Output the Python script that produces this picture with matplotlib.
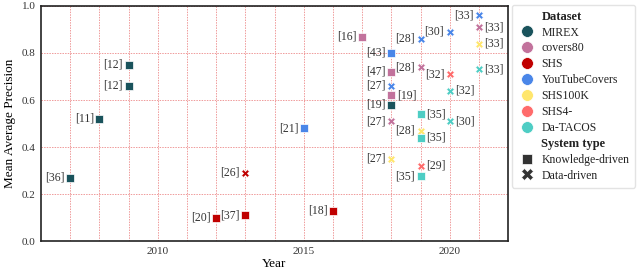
import matplotlib
matplotlib.use('Agg')
import matplotlib.pyplot as plt
from matplotlib.lines import Line2D

plt.rcParams['font.family'] = ['Liberation Serif', 'DejaVu Serif']

# data
datasets = ['MIREX', 'covers80', 'SHS', 'YouTubeCovers', 'SHS100K', 'SHS4-', 'Da-TACOS']
colors = ['#1a535c', '#c2729c', '#c00000', '#4a86e8', '#ffe66d', '#ff6b6b', '#4ecdc4']

years = [2007, 2008, 2009, 2009, 2018,
         2017, 2018, 2018, 2018, 2019, 2021,
         2012, 2013, 2013, 2016,
         2015, 2018, 2018, 2019, 2020, 2021,
         2018, 2019, 2021,
         2020, 2019,
         2019, 2019, 2019, 2020, 2020, 2021]
maps = [0.27, 0.52, 0.66, 0.75, 0.58,
        0.87, 0.72, 0.62, 0.51, 0.74, 0.91,
        0.10, 0.11, 0.29, 0.13,
        0.48, 0.80, 0.66, 0.86, 0.89, 0.96,
        0.35, 0.47, 0.84,
        0.71, 0.32,
        0.54, 0.44, 0.275, 0.64, 0.51, 0.73]
dataset = ['MIREX'] * 5 + ['covers80'] * 6 + ['SHS'] * 4 + ['YouTubeCovers'] * 6 \
    + ['SHS100K'] * 3 + ['SHS4-'] * 2 + ['Da-TACOS'] * 6
system = ['K', 'K', 'K', 'K', 'K',
          'K', 'K', 'K', 'D', 'D', 'D',
          'K', 'K', 'D', 'K',
          'K', 'K', 'D', 'D', 'D', 'D',
          'D', 'D', 'D',
          'D', 'D',
          'K', 'K', 'K', 'D', 'D', 'D']
refs = ['[36]', '[11]', '[12]', '[12]', '[19]',
        '[16]', '[47]', '[19]', '[27]', '[28]', '[33]',
        '[20]', '[37]', '[26]', '[18]',
        '[21]', '[43]', '[27]', '[28]', '[30]', '[33]',
        '[27]', '[28]', '[33]',
        '[32]', '[29]',
        '[35]', '[35]', '[35]', '[32]', '[30]', '[33]']
label_side = ['L', 'L', 'L', 'L', 'L',
              'L', 'L', 'R', 'L', 'L', 'R',
              'L', 'L', 'L', 'L',
              'L', 'L', 'L', 'L', 'L', 'L',
              'L', 'L', 'R',
              'L', 'R',
              'R', 'R', 'L', 'R', 'R', 'R']

fig = plt.figure(figsize=(6.4, 2.7), dpi=100)
ax = fig.add_axes([0.064, 0.107, 0.730, 0.871])

cmap = dict(zip(datasets, colors))
for x, y, ds, st, r, side in zip(years, maps, dataset, system, refs, label_side):
    if st == 'K':
        ax.scatter(x, y, marker='s', s=38, color=cmap[ds], edgecolors='white', linewidths=0.5, zorder=3)
    else:
        ax.scatter(x, y, marker='X', s=32, color=cmap[ds], edgecolors='white', linewidths=0.5, zorder=3)
    if side == 'L':
        ax.annotate(r, (x, y), xytext=(-4, 0), textcoords='offset points',
                    ha='right', va='center', fontsize=8.5, color='#333333')
    else:
        ax.annotate(r, (x, y), xytext=(4, 0), textcoords='offset points',
                    ha='left', va='center', fontsize=8.5, color='#333333')

ax.set_xlim(2006, 2022)
ax.set_ylim(0, 1.0)
ax.set_xticks([2010, 2015, 2020])
ax.set_xticks(range(2007, 2022), minor=True)
ax.set_yticks([0.0, 0.2, 0.4, 0.6, 0.8, 1.0])
ax.grid(True, which='both', color='#ef9a9a', linestyle=(0, (1.5, 1.2)), linewidth=0.7)
ax.set_axisbelow(True)
ax.tick_params(which='both', length=0, labelsize=8, colors='#333333', pad=4)
for s in ax.spines.values():
    s.set_linewidth(1.2)
    s.set_color('#222222')
ax.set_xlabel('Year', fontsize=9.5, labelpad=2)
ax.set_ylabel('Mean Average Precision', fontsize=9.5, labelpad=4)

# legend
blank = Line2D([], [], linestyle='none', marker=None)
handles = [blank]
labels = ['Dataset']
for ds, c in zip(datasets, colors):
    handles.append(Line2D([], [], linestyle='none', marker='o', markersize=8.5,
                          markerfacecolor=c, markeredgecolor='white', markeredgewidth=0.5))
    labels.append(ds)
handles.append(blank)
labels.append('System type')
handles.append(Line2D([], [], linestyle='none', marker='s', markersize=7,
                      markerfacecolor='#333333', markeredgecolor='white', markeredgewidth=0.5))
labels.append('Knowledge-driven')
handles.append(Line2D([], [], linestyle='none', marker='X', markersize=8.5,
                      markerfacecolor='#333333', markeredgecolor='white', markeredgewidth=0.5))
labels.append('Data-driven')

leg = ax.legend(handles, labels, loc='upper left', bbox_to_anchor=(1.008, 1.005),
                fontsize=8.5, frameon=True, handlelength=1.5, handletextpad=0.5,
                labelspacing=0.33, borderpad=0.5, borderaxespad=0)
leg.get_frame().set_edgecolor('#dddddd')
for t in leg.get_texts():
    t.set_color('#222222')
    if t.get_text() in ('Dataset', 'System type'):
        t.set_fontweight('bold')
        t.set_fontsize(9)

fig.savefig('out.png', dpi=100)
